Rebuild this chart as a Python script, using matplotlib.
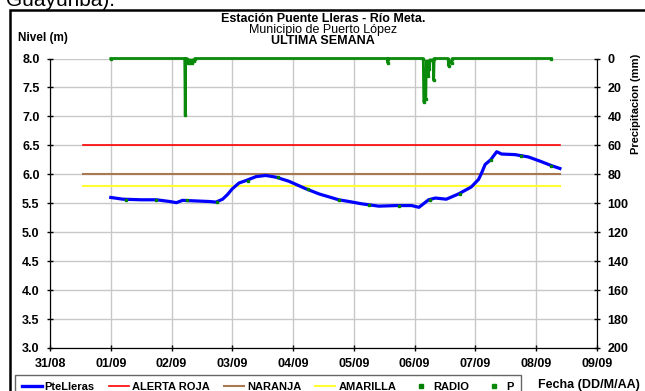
import matplotlib
matplotlib.use("Agg")
import matplotlib.pyplot as plt
from matplotlib.lines import Line2D
from matplotlib.patches import Rectangle
import numpy as np
import pandas as pd

plt.rcParams['font.family'] = ['Liberation Sans', 'DejaVu Sans']
plt.rcParams['font.weight'] = 'bold'

inicio = pd.Timestamp("2010-08-31")

# nivel PteLleras: dias desde 31/08 00:00 y metros
nivel_dias = [1.00, 1.20, 1.50, 1.75, 1.97, 2.08, 2.18, 2.40, 2.62, 2.73, 2.84, 2.92,
              3.00, 3.11, 3.22, 3.39, 3.55, 3.72, 3.93, 4.21, 4.43, 4.59, 4.75, 4.92,
              5.13, 5.41, 5.69, 5.95, 6.07, 6.23, 6.34, 6.52, 6.72, 6.93, 7.05, 7.10,
              7.16, 7.25, 7.35, 7.43, 7.65, 7.87, 8.08, 8.25, 8.39]
nivel_m = [5.60, 5.57, 5.56, 5.56, 5.53, 5.51, 5.55, 5.54, 5.53, 5.52, 5.57, 5.65,
           5.75, 5.85, 5.89, 5.96, 5.98, 5.95, 5.88, 5.75, 5.66, 5.61, 5.56, 5.53,
           5.49, 5.45, 5.46, 5.46, 5.43, 5.56, 5.59, 5.57, 5.66, 5.78, 5.91, 6.02,
           6.17, 6.25, 6.39, 6.35, 6.34, 6.30, 6.22, 6.15, 6.10]

# lecturas RADIO
radio_dias = [1.25, 1.75, 2.25, 2.75, 3.25, 3.75, 4.25, 4.75, 5.25, 5.75, 6.25,
              6.75, 7.25, 7.75, 8.25]
radio_m = [5.56, 5.56, 5.55, 5.52, 5.89, 5.95, 5.74, 5.56, 5.47, 5.46, 5.55,
           5.66, 6.25, 6.32, 6.15]

# precipitacion: horas desde 31/08 00:00 y mm
p_horas = [24.0, 53.2, 53.4, 53.6, 54.0, 54.3, 54.7, 55.1, 55.5, 55.9, 56.3, 56.7,
           57.2, 133.2, 133.4, 133.6, 147.4, 147.6, 148.4, 148.6, 149.2, 149.3,
           149.5, 149.8, 150.0, 151.3, 151.5, 151.7, 157.2, 157.4, 158.0, 158.6,
           158.9, 198.0]
p_mm = [0, 0, 39, 0, 0, 3, 1, 3, 1, 3, 1, 2,
        0, 0, 3, 0, 0, 30, 28, 2, 2, 12,
        2, 7, 1, 1, 15, 0, 0, 5, 2, 3,
        0, 0]

# niveles de alerta
alerta_dias = [0.54, 8.39]
roja = 6.5
naranja = 6.0
amarilla = 5.8

fechas = ["31/08", "01/09", "02/09", "03/09", "04/09", "05/09", "06/09",
          "07/09", "08/09", "09/09"]


def dias(d):
    return inicio + pd.to_timedelta(np.array(d, dtype=float), unit="D")


def px(x, y):
    return x / 645, 1 - y / 391


fig = plt.figure(figsize=(6.45, 3.91), dpi=100)
ax = fig.add_axes([50 / 645, 1 - 348 / 391, 547 / 645, 289.5 / 391])

ax.plot(dias(alerta_dias), [roja, roja], color="#ff0000", lw=1.2, zorder=2)
ax.plot(dias(alerta_dias), [naranja, naranja], color="#a87850", lw=1.5, zorder=2)
ax.plot(dias(alerta_dias), [amarilla, amarilla], color="#ffff33", lw=1.5, zorder=2)
ax.plot(dias(nivel_dias), nivel_m, color="#0000ff", lw=2.3, zorder=3)
ax.plot(dias(radio_dias), radio_m, ls="none", marker="s", ms=2,
        color="#008000", zorder=4)

ax.set_ylim(3, 8)
ax.set_yticks(np.arange(3, 8.01, 0.5))
ax.yaxis.set_major_formatter("{x:.1f}")
ax.set_xlim(dias([0])[0], dias([9])[0])
ax.set_xticks(dias(range(len(fechas))), fechas)
ax.grid(True, color="#c8c8c8", lw=1)
ax.set_axisbelow(True)
ax.spines["top"].set_visible(False)
ax.tick_params(direction="inout", length=5, width=1, labelsize=9, pad=5)

ax2 = ax.twinx()
ax2.plot(inicio + pd.to_timedelta(p_horas, unit="h"), p_mm, color="#0a8a0a",
         lw=2.0, marker="s", ms=1.8, zorder=5, clip_on=False)
ax2.set_ylim(200, 0)
ax2.set_yticks(np.arange(0, 201, 20))
ax2.spines["top"].set_visible(False)
ax2.tick_params(direction="inout", length=5, width=1, labelsize=9, pad=5)

fig.text(*px(323, 19), "Estación Puente Lleras - Río Meta.", ha="center",
         va="center", fontsize=9)
fig.text(*px(323, 30), "Municipio de Puerto López", ha="center", va="center",
         fontsize=9, fontweight="normal")
fig.text(*px(323, 41), "ULTIMA SEMANA", ha="center", va="center", fontsize=9)
fig.text(*px(18, 38), "Nivel (m)", ha="left", va="center", fontsize=8.5)
fig.text(*px(636, 104), "Precipitacion (mm)", ha="center", va="center",
         rotation=90, fontsize=8)
fig.text(*px(538, 385), "Fecha (DD/M/AA)", ha="left", va="center", fontsize=9)
fig.text(*px(6, 6.5), "Guayuriba).", ha="left", va="baseline", fontsize=15,
         fontweight="normal")

fig.add_artist(Rectangle(px(10, 420), 1.0, (420 - 9.5) / 391, fill=False,
                         lw=1.8, ec="black", transform=fig.transFigure))

handles = [
    Line2D([], [], color="#0000ff", lw=2.4),
    Line2D([], [], color="#ff0000", lw=1.2),
    Line2D([], [], color="#a87850", lw=1.5),
    Line2D([], [], color="#ffff33", lw=1.5),
    Line2D([], [], ls="none", marker="s", ms=2.2, color="#008000"),
    Line2D([], [], ls="none", marker="s", ms=2.2, color="#0a8a0a"),
]
labels = ["PteLleras", "ALERTA ROJA", "NARANJA", "AMARILLA", "RADIO", "P"]
leg = fig.legend(handles, labels, loc="upper left", bbox_to_anchor=px(15, 375),
                 ncol=6, fontsize=8, frameon=True, fancybox=False,
                 edgecolor="#404040", borderpad=0.6, handlelength=1.8,
                 handletextpad=0.25, columnspacing=1.3, borderaxespad=0)
leg.get_frame().set_linewidth(1)

fig.savefig("out.png", dpi=100)
